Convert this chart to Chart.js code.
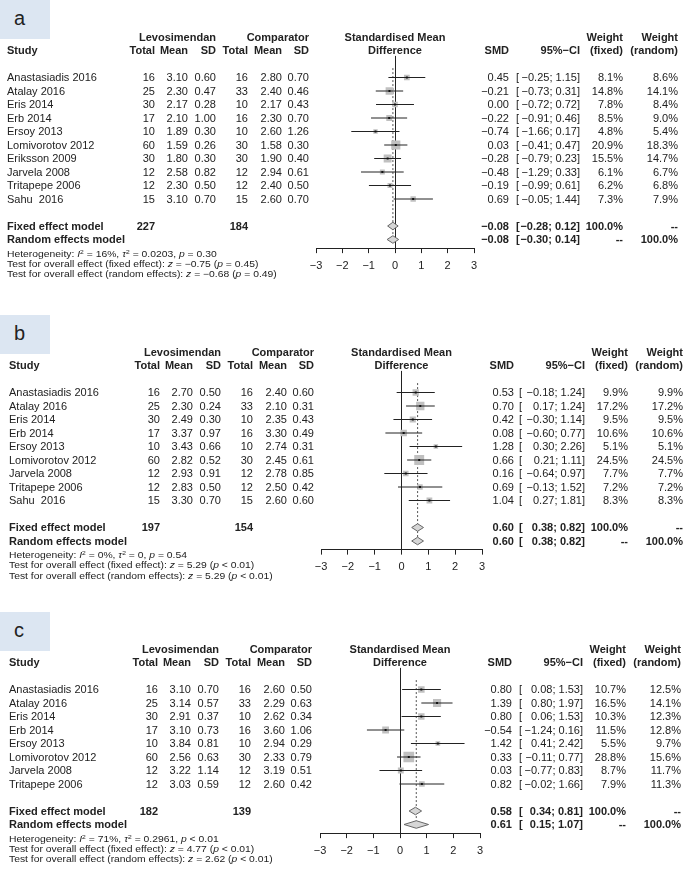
<!DOCTYPE html>
<html>
<head>
<meta charset="utf-8">
<script src="https://cdn.jsdelivr.net/npm/chart.js@4.4.0/dist/chart.umd.min.js"></script>
<style>
body { margin: 0; background: #fff; }
#page { position: relative; width: 685px; height: 873px; overflow: hidden; font-family: "Liberation Sans", Arial, sans-serif; color: #222; }
#page canvas { position: absolute; left: 0; }
.t { position: absolute; white-space: pre; font-size: 11px; line-height: 13px; height: 13px; }
.b { font-weight: bold; }
.s { font-size: 9px; transform: scaleX(1.15); transform-origin: 0 50%; }
.lab { position: absolute; left: 0; width: 50px; height: 39px; background: #dce6f2; font-size: 20px; line-height: 36px; padding-left: 14px; box-sizing: border-box; color: #222; }
sup { font-size: 65%; line-height: 0; vertical-align: 0.45em; }
</style>
</head>
<body>
<div id="page"></div>
<script>
// panel a
var aStudies = ["Anastasiadis 2016", "Atalay 2016", "Eris 2014", "Erb 2014", "Ersoy 2013", "Lomivorotov 2012", "Eriksson 2009", "Jarvela 2008", "Tritapepe 2006", "Sahu  2016"];
var aLevoN = [16, 25, 30, 17, 10, 60, 30, 12, 12, 15];
var aLevoMean = [3.10, 2.30, 2.17, 2.10, 1.89, 1.59, 1.80, 2.58, 2.30, 3.10];
var aLevoSD = [0.60, 0.47, 0.28, 1.00, 0.30, 0.26, 0.30, 0.82, 0.50, 0.70];
var aCompN = [16, 33, 10, 16, 10, 30, 30, 12, 12, 15];
var aCompMean = [2.80, 2.40, 2.17, 2.30, 2.60, 1.58, 1.90, 2.94, 2.40, 2.60];
var aCompSD = [0.70, 0.46, 0.43, 0.70, 1.26, 0.30, 0.40, 0.61, 0.50, 0.70];
var aSMD = [0.45, -0.21, 0.00, -0.22, -0.74, 0.03, -0.28, -0.48, -0.19, 0.69];
var aLower = [-0.25, -0.73, -0.72, -0.91, -1.66, -0.41, -0.79, -1.29, -0.99, -0.05];
var aUpper = [1.15, 0.31, 0.72, 0.46, 0.17, 0.47, 0.23, 0.33, 0.61, 1.44];
var aWFixed = [8.1, 14.8, 7.8, 8.5, 4.8, 20.9, 15.5, 6.1, 6.2, 7.3];
var aWRandom = [8.6, 14.1, 8.4, 9.0, 5.4, 18.3, 14.7, 6.7, 6.8, 7.9];
var aTotals = [227, 184];
var aFixed = [-0.08, -0.28, 0.12];
var aRandom = [-0.08, -0.30, 0.14];
var aHet = ["16%", "0.0203", "= 0.30"];
var aTests = ["\u22120.75 (<i>p</i> = 0.45)", "\u22120.68 (<i>p</i> = 0.49)"];

// panel b
var bStudies = ["Anastasiadis 2016", "Atalay 2016", "Eris 2014", "Erb 2014", "Ersoy 2013", "Lomivorotov 2012", "Jarvela 2008", "Tritapepe 2006", "Sahu  2016"];
var bLevoN = [16, 25, 30, 17, 10, 60, 12, 12, 15];
var bLevoMean = [2.70, 2.30, 2.49, 3.37, 3.43, 2.82, 2.93, 2.83, 3.30];
var bLevoSD = [0.50, 0.24, 0.30, 0.97, 0.66, 0.52, 0.91, 0.50, 0.70];
var bCompN = [16, 33, 10, 16, 10, 30, 12, 12, 15];
var bCompMean = [2.40, 2.10, 2.35, 3.30, 2.74, 2.45, 2.78, 2.50, 2.60];
var bCompSD = [0.60, 0.31, 0.43, 0.49, 0.31, 0.61, 0.85, 0.42, 0.60];
var bSMD = [0.53, 0.70, 0.42, 0.08, 1.28, 0.66, 0.16, 0.69, 1.04];
var bLower = [-0.18, 0.17, -0.30, -0.60, 0.30, 0.21, -0.64, -0.13, 0.27];
var bUpper = [1.24, 1.24, 1.14, 0.77, 2.26, 1.11, 0.97, 1.52, 1.81];
var bWFixed = [9.9, 17.2, 9.5, 10.6, 5.1, 24.5, 7.7, 7.2, 8.3];
var bWRandom = [9.9, 17.2, 9.5, 10.6, 5.1, 24.5, 7.7, 7.2, 8.3];
var bTotals = [197, 154];
var bFixed = [0.60, 0.38, 0.82];
var bRandom = [0.60, 0.38, 0.82];
var bHet = ["0%", "0", "= 0.54"];
var bTests = ["5.29 (<i>p</i> &lt; 0.01)", "5.29 (<i>p</i> &lt; 0.01)"];

// panel c
var cStudies = ["Anastasiadis 2016", "Atalay 2016", "Eris 2014", "Erb 2014", "Ersoy 2013", "Lomivorotov 2012", "Jarvela 2008", "Tritapepe 2006"];
var cLevoN = [16, 25, 30, 17, 10, 60, 12, 12];
var cLevoMean = [3.10, 3.14, 2.91, 3.10, 3.84, 2.56, 3.22, 3.03];
var cLevoSD = [0.70, 0.57, 0.37, 0.73, 0.81, 0.63, 1.14, 0.59];
var cCompN = [16, 33, 10, 16, 10, 30, 12, 12];
var cCompMean = [2.60, 2.29, 2.62, 3.60, 2.94, 2.33, 3.19, 2.60];
var cCompSD = [0.50, 0.63, 0.34, 1.06, 0.29, 0.79, 0.51, 0.42];
var cSMD = [0.80, 1.39, 0.80, -0.54, 1.42, 0.33, 0.03, 0.82];
var cLower = [0.08, 0.80, 0.06, -1.24, 0.41, -0.11, -0.77, -0.02];
var cUpper = [1.53, 1.97, 1.53, 0.16, 2.42, 0.77, 0.83, 1.66];
var cWFixed = [10.7, 16.5, 10.3, 11.5, 5.5, 28.8, 8.7, 7.9];
var cWRandom = [12.5, 14.1, 12.3, 12.8, 9.7, 15.6, 11.7, 11.3];
var cTotals = [182, 139];
var cFixed = [0.58, 0.34, 0.81];
var cRandom = [0.61, 0.15, 1.07];
var cHet = ["71%", "0.2961", "&lt; 0.01"];
var cTests = ["4.77 (<i>p</i> &lt; 0.01)", "2.62 (<i>p</i> &lt; 0.01)"];

var axisTicks = [-3, -2, -1, 0, 1, 2, 3];

var FONT = '"Liberation Sans", Arial, sans-serif';
var ROW = 13.5;
var page = document.getElementById("page");

function num(v) {
    return (v < 0 ? "\u2212" : "") + Math.abs(v).toFixed(2);
}

function txt(x, y, s, align, cls) {
    var d = document.createElement("div");
    d.className = "t " + (cls || "");
    d.innerHTML = s;
    if (align === "r") {
        d.style.left = (x - 300) + "px";
        d.style.width = "300px";
        d.style.textAlign = "right";
    } else if (align === "c") {
        d.style.left = (x - 150) + "px";
        d.style.width = "300px";
        d.style.textAlign = "center";
    } else {
        d.style.left = x + "px";
    }
    d.style.top = (y - 6.5) + "px";
    page.appendChild(d);
}

function forest(p) {
    var n = p.studies.length;
    var fixedRow = n + 1;
    var randomRow = n + 2;
    var chartTop = 77.5 - 1.6 * ROW;
    var chartH = (randomRow + 2.24) * ROW;
    var padBottom = p.height - chartTop - chartH - 30;

    var lab = document.createElement("div");
    lab.className = "lab";
    lab.style.top = p.top + "px";
    lab.textContent = p.letter;
    page.appendChild(lab);

    var cv = document.createElement("canvas");
    cv.width = 685;
    cv.height = p.height;
    cv.style.top = p.top + "px";
    page.appendChild(cv);

    var ciData = [];
    var pts = [];
    var sizes = [];
    for (let i = 0; i < n; i++) {
        ciData.push({x: p.lower[i], y: i}, {x: p.upper[i], y: i}, {x: null, y: null});
        pts.push({x: p.smd[i], y: i});
        sizes.push(2.0 * Math.sqrt(p.wFixed[i]) / Math.SQRT2);
    }
    function diamond(m, r) {
        return [{x: m[1], y: r}, {x: m[0], y: r - 0.28}, {x: m[2], y: r}, {x: m[0], y: r + 0.28}, {x: m[1], y: r}];
    }

    var chart = new Chart(cv, {
        type: "line",
        data: {
            datasets: [{
                type: "scatter",
                data: pts,
                pointStyle: "rect",
                pointRadius: sizes,
                backgroundColor: "#c0c0c0",
                borderWidth: 0,
                order: 4
            }, {
                data: ciData,
                borderColor: "#222",
                borderWidth: 1,
                pointRadius: 0,
                spanGaps: false,
                order: 2
            }, {
                type: "scatter",
                data: pts,
                pointStyle: "rect",
                pointRadius: 1.4,
                backgroundColor: "#111",
                borderWidth: 0,
                order: 1
            }, {
                data: [{x: p.random[0], y: -0.7}, {x: p.random[0], y: randomRow - 0.3}],
                borderColor: "#555",
                borderWidth: 1,
                borderDash: [2, 2],
                pointRadius: 0,
                order: 5
            }, {
                data: diamond(p.fixed, fixedRow),
                borderColor: "#666",
                backgroundColor: "#d6d6d6",
                borderWidth: 1,
                fill: "shape",
                pointRadius: 0,
                tension: 0,
                order: 3
            }, {
                data: diamond(p.random, randomRow),
                borderColor: "#666",
                backgroundColor: "#d6d6d6",
                borderWidth: 1,
                fill: "shape",
                pointRadius: 0,
                tension: 0,
                order: 3
            }]
        },
        options: {
            responsive: false,
            animation: false,
            devicePixelRatio: 1,
            layout: {padding: {left: p.xl, right: 685 - p.xr, top: chartTop, bottom: padBottom}},
            plugins: {legend: {display: false}, tooltip: {enabled: false}},
            scales: {
                x: {
                    type: "linear",
                    min: axisTicks[0],
                    max: axisTicks[axisTicks.length - 1],
                    afterFit: function (s) { s.height = 30; },
                    afterBuildTicks: function (s) { s.ticks = axisTicks.map(function (v) { return {value: v}; }); },
                    ticks: {
                        color: "#222",
                        padding: 6,
                        font: {family: FONT, size: 11},
                        callback: function (v) { return v < 0 ? "\u2212" + (-v) : String(v); }
                    },
                    grid: {
                        color: function (c) { return c.tick && c.tick.value === 0 ? "#222" : "rgba(0,0,0,0)"; },
                        tickColor: "#222",
                        tickLength: 5,
                        lineWidth: 1
                    },
                    border: {color: "#222", width: 1}
                },
                y: {type: "linear", display: false, reverse: true, min: -1.6, max: randomRow + 0.64}
            }
        }
    });

    var ys = chart.scales.y;
    var xs = chart.scales.x;
    function rowY(r) { return p.top + ys.getPixelForValue(r); }
    var dx = p.dx;
    var zeroX = xs.getPixelForValue(0);

    // CI text: bracket fixed at the left, numbers right-aligned
    function ciText(y, lo, hi, cls) {
        txt(p.ciL, y, "[", "l", cls);
        txt(580 + dx, y, num(lo) + "; " + num(hi) + "]", "r", cls);
    }

    txt(216 + dx, rowY(-3), "Levosimendan", "r", "b");
    txt(309 + dx, rowY(-3), "Comparator", "r", "b");
    txt(zeroX, rowY(-3), "Standardised Mean", "c", "b");
    txt(623 + dx, rowY(-3), "Weight", "r", "b");
    txt(678 + dx, rowY(-3), "Weight", "r", "b");
    txt(p.sx, rowY(-2), "Study", "l", "b");
    txt(155 + dx, rowY(-2), "Total", "r", "b");
    txt(188 + dx, rowY(-2), "Mean", "r", "b");
    txt(216 + dx, rowY(-2), "SD", "r", "b");
    txt(248 + dx, rowY(-2), "Total", "r", "b");
    txt(282 + dx, rowY(-2), "Mean", "r", "b");
    txt(309 + dx, rowY(-2), "SD", "r", "b");
    txt(zeroX, rowY(-2), "Difference", "c", "b");
    txt(509 + dx, rowY(-2), "SMD", "r", "b");
    txt(580 + dx, rowY(-2), "95%\u2212CI", "r", "b");
    txt(623 + dx, rowY(-2), "(fixed)", "r", "b");
    txt(678 + dx, rowY(-2), "(random)", "r", "b");

    for (let i = 0; i < n; i++) {
        var y = rowY(i);
        txt(p.sx, y, p.studies[i], "l");
        txt(155 + dx, y, String(p.levoN[i]), "r");
        txt(188 + dx, y, p.levoMean[i].toFixed(2), "r");
        txt(216 + dx, y, p.levoSD[i].toFixed(2), "r");
        txt(248 + dx, y, String(p.compN[i]), "r");
        txt(282 + dx, y, p.compMean[i].toFixed(2), "r");
        txt(309 + dx, y, p.compSD[i].toFixed(2), "r");
        txt(509 + dx, y, num(p.smd[i]), "r");
        ciText(y, p.lower[i], p.upper[i]);
        txt(623 + dx, y, p.wFixed[i].toFixed(1) + "%", "r");
        txt(678 + dx, y, p.wRandom[i].toFixed(1) + "%", "r");
    }

    var yf = rowY(fixedRow);
    txt(p.sx, yf, "Fixed effect model", "l", "b");
    txt(155 + dx, yf, String(p.totals[0]), "r", "b");
    txt(248 + dx, yf, String(p.totals[1]), "r", "b");
    txt(509 + dx, yf, num(p.fixed[0]), "r", "b");
    ciText(yf, p.fixed[1], p.fixed[2], "b");
    txt(623 + dx, yf, "100.0%", "r", "b");
    txt(678 + dx, yf, "--", "r", "b");

    var yr = rowY(randomRow);
    txt(p.sx, yr, "Random effects model", "l", "b");
    txt(509 + dx, yr, num(p.random[0]), "r", "b");
    ciText(yr, p.random[1], p.random[2], "b");
    txt(623 + dx, yr, "--", "r", "b");
    txt(678 + dx, yr, "100.0%", "r", "b");

    txt(p.sx, yr + 14.5, "Heterogeneity: <i>I</i><sup>2</sup> = " + p.het[0] + ", <i>\u03c4</i><sup>2</sup> = " + p.het[1] + ", <i>p</i> " + p.het[2], "l", "s");
    txt(p.sx, yr + 24.8, "Test for overall effect (fixed effect): <i>z</i> = " + p.tests[0], "l", "s");
    txt(p.sx, yr + 35, "Test for overall effect (random effects): <i>z</i> = " + p.tests[1], "l", "s");
}

forest({letter: "a", top: 0, height: 300, dx: 0, sx: 7, xl: 316, xr: 474, ciL: 516,
    studies: aStudies, levoN: aLevoN, levoMean: aLevoMean, levoSD: aLevoSD,
    compN: aCompN, compMean: aCompMean, compSD: aCompSD, smd: aSMD, lower: aLower, upper: aUpper,
    wFixed: aWFixed, wRandom: aWRandom, totals: aTotals, fixed: aFixed, random: aRandom, het: aHet, tests: aTests});

forest({letter: "b", top: 315, height: 290, dx: 5, sx: 9, xl: 321, xr: 482, ciL: 519,
    studies: bStudies, levoN: bLevoN, levoMean: bLevoMean, levoSD: bLevoSD,
    compN: bCompN, compMean: bCompMean, compSD: bCompSD, smd: bSMD, lower: bLower, upper: bUpper,
    wFixed: bWFixed, wRandom: bWRandom, totals: bTotals, fixed: bFixed, random: bRandom, het: bHet, tests: bTests});

forest({letter: "c", top: 612, height: 261, dx: 3, sx: 9, xl: 320, xr: 480, ciL: 519,
    studies: cStudies, levoN: cLevoN, levoMean: cLevoMean, levoSD: cLevoSD,
    compN: cCompN, compMean: cCompMean, compSD: cCompSD, smd: cSMD, lower: cLower, upper: cUpper,
    wFixed: cWFixed, wRandom: cWRandom, totals: cTotals, fixed: cFixed, random: cRandom, het: cHet, tests: cTests});
</script>
</body>
</html>
